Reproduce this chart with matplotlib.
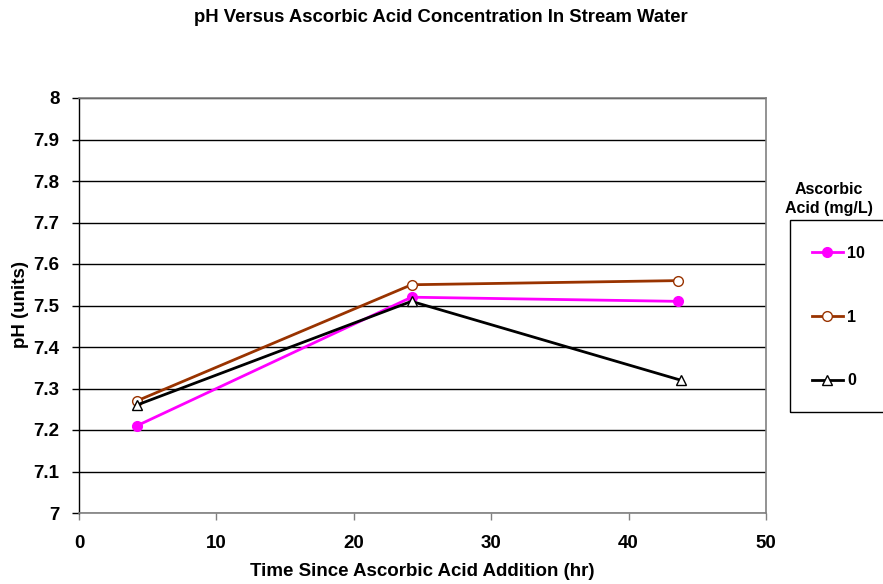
import matplotlib
matplotlib.use("Agg")
import matplotlib.pyplot as plt
from matplotlib.patches import Rectangle

plt.rcParams['font.family'] = ['Liberation Sans', 'DejaVu Sans']

time_10 = [4.2, 24.2, 43.6]
ph_10 = [7.21, 7.52, 7.51]
time_1 = [4.2, 24.2, 43.6]
ph_1 = [7.27, 7.55, 7.56]
time_0 = [4.2, 24.2, 43.8]
ph_0 = [7.26, 7.51, 7.32]
labels = ['10', '1', '0']
yticks = [7, 7.1, 7.2, 7.3, 7.4, 7.5, 7.6, 7.7, 7.8, 7.9, 8]
ytick_labels = ['7', '7.1', '7.2', '7.3', '7.4', '7.5', '7.6', '7.7', '7.8', '7.9', '8']
xticks = [0, 10, 20, 30, 40, 50]

FS = 13.5
LFS = 11.5
W, H = 883, 584
fig = plt.figure(figsize=(W / 100, H / 100), dpi=100)
ax = fig.add_axes([79 / W, 1 - 513 / H, (766 - 79) / W, (513 - 98) / H])

h10, = ax.plot(time_10, ph_10, color='#ff00ff', lw=2, marker='o', ms=7,
               mfc='#ff00ff', mec='#ff00ff', label=labels[0], zorder=3)
h1, = ax.plot(time_1, ph_1, color='#993300', lw=2, marker='o', ms=7,
              mfc='white', mec='#993300', mew=1, label=labels[1], zorder=3)
h0, = ax.plot(time_0, ph_0, color='black', lw=2, marker='^', ms=7,
              mfc='white', mec='black', mew=1, label=labels[2], zorder=3)

ax.set_xlim(0, 50)
ax.set_ylim(7, 8)
ax.set_xticks(xticks)
ax.set_xticklabels([str(v) for v in xticks])
ax.set_yticks(yticks)
ax.set_yticklabels(ytick_labels)
ax.yaxis.grid(True, color='black', lw=1)
ax.set_axisbelow(True)
for s in ['top', 'right', 'bottom']:
    ax.spines[s].set_color('#808080')
    ax.spines[s].set_linewidth(1.2)
ax.spines['left'].set_color('black')
ax.spines['left'].set_linewidth(1)
ax.tick_params(axis='both', direction='out', length=5, width=1, color='#808080',
               labelsize=FS)
ax.tick_params(axis='x', pad=10.5)
ax.tick_params(axis='y', color='black', pad=9)
for lab in ax.get_xticklabels() + ax.get_yticklabels():
    lab.set_fontweight('bold')

ax.set_xlabel('Time Since Ascorbic Acid Addition (hr)', fontsize=FS,
              fontweight='bold', va='center')
ax.set_ylabel('pH (units)', fontsize=FS, fontweight='bold', va='center')
ax.xaxis.set_label_coords((422 - 79) / 687, -(572 - 513) / 415)
ax.yaxis.set_label_coords(-(79 - 21) / 687, (513 - 305) / 415)

fig.text(441 / W, 1 - 18 / H, 'pH Versus Ascorbic Acid Concentration In Stream Water',
         ha='center', va='center', fontsize=13.3, fontweight='bold')

# legend box and title
fig.patches.append(Rectangle((790 / W, 1 - 412 / H), 100 / W, (412 - 220) / H,
                             transform=fig.transFigure, fill=False,
                             edgecolor='black', lw=1))
fig.text(829 / W, 1 - 199 / H, 'Ascorbic\nAcid (mg/L)', ha='center', va='center',
         fontsize=LFS, fontweight='bold', linespacing=1.35)
leg = fig.legend(handles=[h10, h1, h0], labels=labels, loc='upper left',
                 bbox_to_anchor=(812 / W, 1 - 246 / H), frameon=False,
                 fontsize=LFS, labelspacing=3.05, handlelength=1.94,
                 handletextpad=0.25, borderaxespad=0, borderpad=0)
for t in leg.get_texts():
    t.set_fontweight('bold')

fig.savefig('out.png', dpi=100)
